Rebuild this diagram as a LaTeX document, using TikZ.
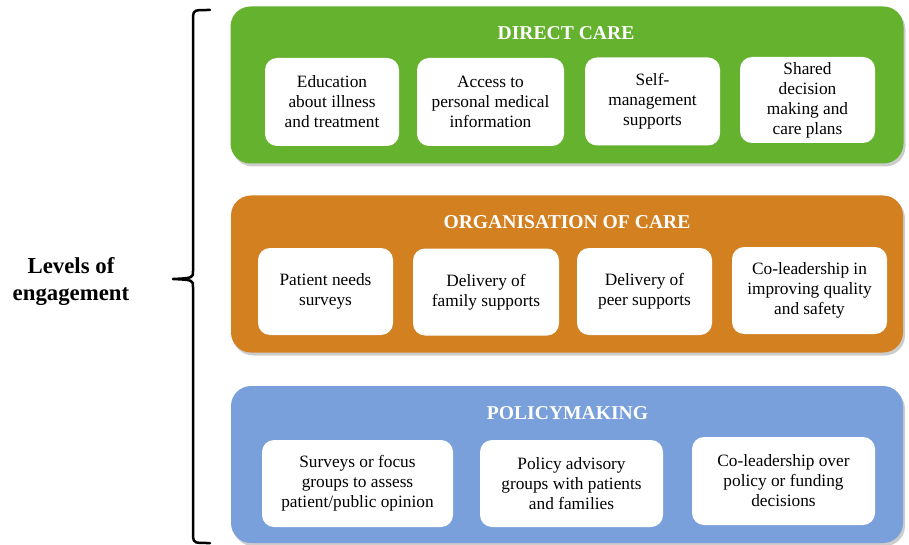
\documentclass[tikz,border=0pt]{standalone}
\usepackage{fontspec}
\setmainfont{Liberation Serif}
\usetikzlibrary{shadows}
\definecolor{dcgreen}{RGB}{100,178,46}
\definecolor{ocorange}{RGB}{211,128,33}
\definecolor{pmblue}{RGB}{121,160,218}
\begin{document}
\begin{tikzpicture}[x=1pt,y=-1pt,
  panel/.style={rounded corners=20pt, inner sep=0pt, draw=none,
    drop shadow={shadow xshift=2pt, shadow yshift=-3pt, opacity=0.2, fill=black}},
  item/.style={fill=white, rounded corners=12pt, inner sep=2pt, align=center,
    font=\fontsize{17.3}{20}\selectfont, text=black},
  ptitle/.style={anchor=base, text=white, font=\fontsize{19.6}{22}\bfseries\selectfont},
  bracestyle/.style={line width=2.5pt, line cap=round, line join=round}]
\useasboundingbox (0,0) rectangle (909,545);

% panels
\node[panel, fill=dcgreen, minimum width=673pt, minimum height=157pt] (direct) at (567,85) {};
\node[panel, fill=ocorange, minimum width=672pt, minimum height=157pt] (org) at (567,274) {};
\node[panel, fill=pmblue, minimum width=672pt, minimum height=157pt] (policy) at (567,464.5) {};

% titles
\node[ptitle] (t1) at (566,40) {DIRECT CARE};
\node[ptitle] (t2) at (567,229) {ORGANISATION OF CARE};
\node[ptitle] (t3) at (567.5,419) {POLICYMAKING};

% direct care items
\node[item, minimum width=134pt, minimum height=88pt] (d1) at (332,102) {Education\\about illness\\and treatment};
\node[item, minimum width=147pt, minimum height=88pt] (d2) at (490.5,102) {Access to\\personal medical\\information};
\node[item, minimum width=135pt, minimum height=88pt] (d3) at (652.5,101.5) {Self-\\management\\supports};
\node[item, minimum width=135pt, minimum height=86pt] (d4) at (807.5,100) {Shared\\decision\\making and\\care plans};

% organisation of care items
\node[item, minimum width=135pt, minimum height=87pt] (o1) at (325.5,291.5) {Patient needs\\surveys};
\node[item, minimum width=146pt, minimum height=87pt] (o2) at (486,292) {Delivery of\\family supports};
\node[item, minimum width=135pt, minimum height=87pt] (o3) at (644.5,291.5) {Delivery of\\peer supports};
\node[item, minimum width=155pt, minimum height=87pt] (o4) at (809.5,290.5) {Co-leadership in\\improving quality\\and safety};

% policymaking items
\node[item, minimum width=191pt, minimum height=87pt] (p1) at (357.5,483.5) {Surveys or focus\\groups to assess\\patient/public opinion};
\node[item, minimum width=183pt, minimum height=87pt] (p2) at (571.5,483.5) {Policy advisory\\groups with patients\\and families};
\node[item, minimum width=183pt, minimum height=88pt] (p3) at (783.5,481) {Co-leadership over\\policy or funding\\decisions};

% brace
\coordinate (btop) at (210,10);
\coordinate (btip) at (173,279);
\coordinate (bbot) at (210,543);
\draw[bracestyle] (btop) .. controls (194,10) .. (193,16) -- (193,271)
  .. controls (193,278) .. (btip)
  .. controls (193,280) .. (193,287) -- (193,537)
  .. controls (194,543) .. (bbot);

% label
\node[align=center, font=\fontsize{22.8}{27}\bfseries\selectfont] (lbl) at (71,281) {Levels of\\engagement};
\end{tikzpicture}
\end{document}
